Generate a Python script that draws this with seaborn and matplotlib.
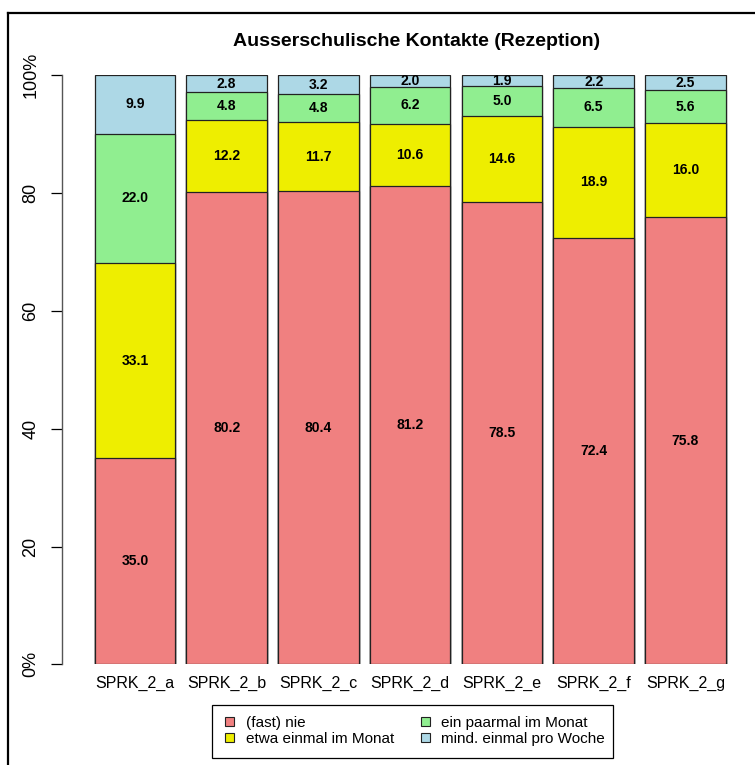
#!/usr/bin/python

'''
Stacked bar chart of out-of-school contacts (reception), one bar per item,
percentages per answer category, labels inside the segments.
'''

import pandas as pd
import seaborn as sns
import matplotlib.pyplot as plt
from matplotlib.patches import Rectangle
from matplotlib.lines import Line2D
import numpy as np

# Step 1: Data (percent per answer category)
items = ['SPRK_2_a', 'SPRK_2_b', 'SPRK_2_c', 'SPRK_2_d', 'SPRK_2_e', 'SPRK_2_f', 'SPRK_2_g']
categories = ['(fast) nie', 'etwa einmal im Monat', 'ein paarmal im Monat', 'mind. einmal pro Woche']
nie = [35.0, 80.2, 80.4, 81.2, 78.5, 72.4, 75.8]
einmal_monat = [33.1, 12.2, 11.7, 10.6, 14.6, 18.9, 16.0]
paarmal_monat = [22.0, 4.8, 4.8, 6.2, 5.0, 6.5, 5.6]
pro_woche = [9.9, 2.8, 3.2, 2.0, 1.9, 2.2, 2.5]
colors = ['#F08080', '#EEEE00', '#90EE90', '#ADD8E6']

data = pd.DataFrame({'item': items, categories[0]: nie, categories[1]: einmal_monat,
                     categories[2]: paarmal_monat, categories[3]: pro_woche})

# shares scaled so that every bar ends at 100 %
values = data[categories].to_numpy()
shares = values / values.sum(axis=1, keepdims=True) * 100
cum = np.cumsum(shares, axis=1)

# Step 2: Figure with fixed axes position (pixel layout of the original)
W, H = 755, 765
fig = plt.figure(figsize=(W / 100, H / 100), dpi=100)
ax = fig.add_axes([61.7 / W, (H - 664.3) / H, (751 - 61.7) / W, 589 / H])

# Step 3: Stacked bars, drawn from the top layer down
for k in range(len(categories) - 1, -1, -1):
    sns.barplot(x=data['item'], y=cum[:, k], color=colors[k], saturation=1,
                width=0.877, edgecolor='#222222', linewidth=0.9, ax=ax)

# segment labels
for i in range(len(items)):
    for k in range(len(categories)):
        mid = cum[i, k] - shares[i, k] / 2
        ax.text(i, mid, f'{values[i, k]:.1f}', ha='center', va='center',
                fontsize=10, fontweight='bold', family='Liberation Sans')

# Step 4: Axes styling (R base graphics look)
ax.set_xlim(-0.798, 6.714)
ax.set_ylim(0, 100)
ax.set_xlabel('')
ax.set_ylabel('')
for side in ['top', 'right', 'bottom']:
    ax.spines[side].set_visible(False)
ax.spines['left'].set_bounds(0, 100)
ax.spines['left'].set_color('#555555')
ax.spines['left'].set_linewidth(1)

ax.set_yticks([0, 20, 40, 60, 80, 100])
ax.set_yticklabels(['0%', '20', '40', '60', '80', '100%'], rotation=90, va='center',
                   fontsize=13, family='Liberation Sans')
ax.tick_params(axis='y', length=8, width=0.9, pad=8, color='black')
ax.tick_params(axis='x', length=0, pad=8.5)
plt.setp(ax.get_xticklabels(), fontsize=11.5, family='Liberation Sans')

# Step 5: Title
fig.text(416.5 / W, 1 - 42 / H, 'Ausserschulische Kontakte (Rezeption)', ha='center',
         va='center', fontsize=14, fontweight='bold', family='Liberation Sans')

# Step 6: Legend with its own box
handles = [Rectangle((0, 0), 1, 1, facecolor=c, edgecolor='#222222', linewidth=0.8) for c in colors]
fig.legend(handles, categories, loc='upper left', bbox_to_anchor=(225 / W, 1 - 716 / H),
           ncol=2, frameon=False, borderpad=0, borderaxespad=0, handlelength=0.6,
           handleheight=0.6, handletextpad=0.75, columnspacing=1.75, labelspacing=0.12,
           prop={'family': 'Liberation Sans', 'size': 11})
fig.add_artist(Rectangle((212.3 / W, 1 - 758.3 / H), (613 - 212.3) / W, (758.3 - 705) / H,
                         transform=fig.transFigure, fill=False, edgecolor='black', linewidth=0.9))

# frame around the whole picture (left and top edges visible)
fig.add_artist(Line2D([8 / W, 8 / W], [0, 1 - 13 / H], transform=fig.transFigure, color='black', linewidth=1.6))
fig.add_artist(Line2D([8 / W, 1], [1 - 13 / H, 1 - 13 / H], transform=fig.transFigure, color='black', linewidth=1.6))

# Step 7: Save
plt.savefig('out.png', dpi=100)
